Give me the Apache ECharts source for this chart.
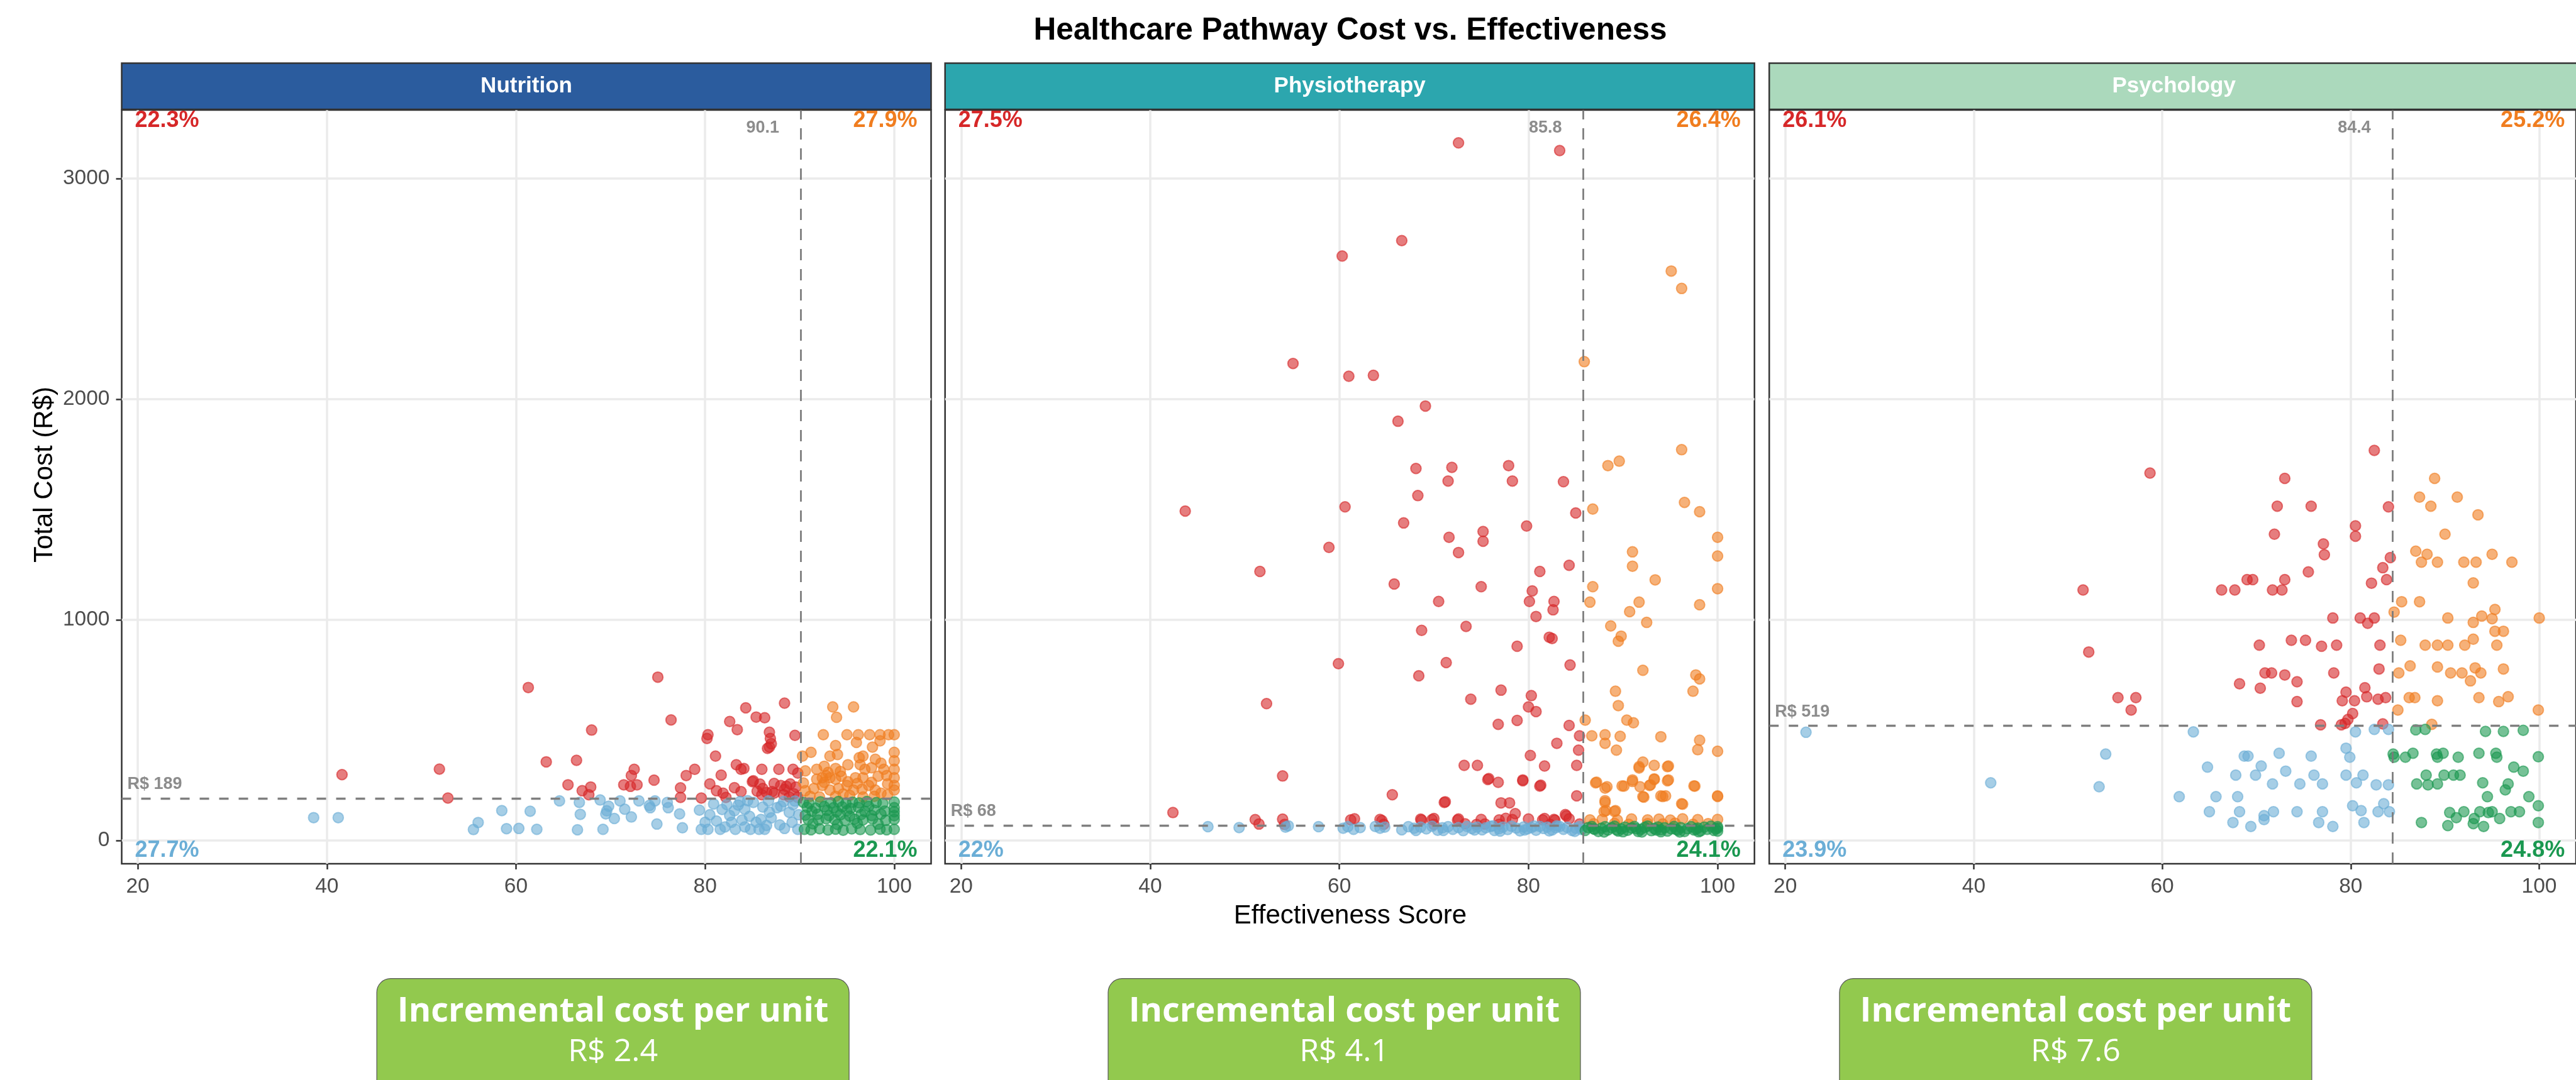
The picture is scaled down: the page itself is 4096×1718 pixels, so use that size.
<!DOCTYPE html>
<html>
<head>
<meta charset="utf-8">
<script src="https://cdn.jsdelivr.net/npm/echarts@6/dist/echarts.min.js"></script>
<style>
  html, body { margin: 0; padding: 0; background: #fff; }
  #chart { width: 4096px; height: 1718px; }
</style>
</head>
<body>
<div id="chart"></div>
<script>
// ---- data ----
var panelNames = ['Nutrition', 'Physiotherapy', 'Psychology'];
var stripColors = ['#2B5C9E', '#2CA6AE', '#ABD9BC'];
var xThresholds = [90.1, 85.8, 84.4];
var yThresholds = [189, 68, 519];
var xThresholdLabels = ['90.1', '85.8', '84.4'];
var yThresholdLabels = ['R$ 189', 'R$ 68', 'R$ 519'];
// top-left, top-right, bottom-left, bottom-right
var quadrantPct = [
  ['22.3%', '27.9%', '27.7%', '22.1%'],
  ['27.5%', '26.4%', '22%', '24.1%'],
  ['26.1%', '25.2%', '23.9%', '24.8%']
];
var incrementalCost = ['R$ 2.4', 'R$ 4.1', 'R$ 7.6'];
var xTicks = [20, 40, 60, 80, 100];
var yTicks = [0, 1000, 2000, 3000];

var nutritionPoints = [
  // above median cost
  [41.6,298],[51.9,323],[52.8,192],[61.3,693],[63.2,356],[65.5,252],[66.4,363],[67.0,225],[67.7,207],[67.9,242],
  [68.0,500],[71.4,252],[72.1,245],[72.2,294],[72.5,322],[72.8,252],[74.6,273],[75.0,740],[76.4,546],[77.4,238],
  [77.4,195],[78.0,294],[78.9,322],[79.6,192],[80.2,462],[80.3,479],[80.5,256],[81.1,382],[81.2,225],[81.7,296],
  [81.9,214],[82.2,195],[82.6,539],[83.1,239],[83.3,343],[83.4,502],[83.8,322],[83.8,221],[84.1,326],[84.3,601],
  [85.0,266],[85.1,270],[85.4,559],[85.5,223],[85.8,255],[86.0,322],[86.0,207],[86.1,235],[86.3,556],[86.5,217],
  [86.6,417],[86.8,490],[86.8,423],[86.9,462],[87.0,438],[87.1,221],[87.3,258],[87.3,214],[87.8,322],[88.0,249],
  [88.3,207],[88.4,622],[88.4,231],[88.6,245],[88.9,197],[89.0,256],[89.3,322],[89.4,211],[89.5,476],[89.6,242],
  [89.8,305],[89.8,195],
  [93.5,605],[95.7,605],[93.9,558],[92.5,479],[95.0,479],[96.2,479],[97.4,479],[98.5,479],[99.4,479],[100,479],
  [96.0,444],[98.5,451],[93.8,430],[97.7,423],[90.3,382],[91.2,399],[93.2,382],[94.0,389],[96.7,382],[98.0,368],
  [100,399],[96.3,375],[100,361],[90.6,315],[91.8,322],[92.6,336],[93.0,308],[93.8,326],[94.3,312],[95.1,343],
  [96.4,343],[96.9,322],[97.6,329],[98.6,350],[98.9,322],[100,322],[92.4,284],[93.2,284],[94.4,291],[95.9,284],
  [96.7,284],[97.6,263],[98.3,291],[99.2,294],[99.3,256],[100,284],[91.8,277],[92.6,263],[93.8,277],[95.1,266],
  [92.8,294],[90.6,225],[91.5,235],[92.4,249],[93.2,228],[94.1,235],[95.0,249],[95.7,228],[96.6,232],[97.3,249],
  [98.0,228],[98.6,214],[100,228],[100,249],[91.1,200],[92.1,197],[93.8,200],[95.3,204],[96.7,197],[97.9,200],
  [99.3,207],[90.4,260],[94.6,210],[96.1,258],
  // below median cost
  [38.6,103],[41.2,103],[55.5,49],[56.0,81],[58.5,135],[59.0,53],[60.3,54],[61.5,132],[62.2,50],[64.6,179],
  [66.5,48],[66.7,172],[66.8,118],[68.9,183],[69.2,50],[69.8,155],[69.6,134],[69.5,120],[70.4,99],[71.0,179],
  [71.5,141],[72.2,106],[73.0,179],[74.1,158],[74.2,148],[74.7,179],[74.9,74],[76.0,172],[76.1,148],[77.3,120],
  [77.6,57],[79.4,137],[79.6,50],[80.0,82],[80.3,50],[80.5,116],[80.9,165],[81.2,88],[81.6,50],[82.1,61],
  [82.3,162],[82.6,113],[82.8,82],[83.1,134],[83.2,50],[83.7,176],[83.9,92],[84.2,61],[84.2,141],[84.7,109],
  [84.8,50],[85.1,172],[85.4,82],[85.7,50],[86.1,151],[86.3,50],[86.7,179],[87.0,102],[87.6,148],[88.3,176],
  [88.4,54],[88.9,127],[89.2,82],[89.8,50],[89.3,162],[89.9,116],[86.8,128],[87.9,70],[85.9,95],[81.8,140],
  [83.5,160],[88.0,155],[84.5,180],[86.5,68],[89.5,178],
  [90.4,172],[91.0,168],[92.2,175],[93.3,170],[94.1,176],[94.9,168],[95.6,173],[96.3,170],[97.1,176],[98.1,171],
  [98.8,167],[100,174],[90.8,150],[91.7,146],[92.6,153],[93.6,148],[94.5,152],[95.4,145],[96.2,150],[97.3,154],
  [100,148],[91.3,132],[92.9,136],[93.9,130],[95.0,134],[96.9,131],[97.9,137],[99.0,133],[100,130],[90.6,114],
  [91.9,118],[93.1,112],[94.3,116],[95.3,110],[96.5,117],[97.6,113],[98.6,119],[100,112],[90.9,95],[92.0,92],
  [92.8,98],[93.7,94],[94.8,90],[95.8,96],[96.7,93],[97.7,97],[99.1,91],[100,95],[91.4,75],[94.0,72],
  [96.1,77],[98.3,74],[90.5,50],[91.2,48],[92.1,53],[93.0,47],[93.8,51],[94.6,46],[95.5,52],[96.4,49],
  [97.5,47],[98.5,51],[99.2,48],[100,50]
];

var physioPoints = [
  [72.6,3162],[83.3,3127],[66.6,2719],[60.3,2649],[55.1,2162],[61.0,2104],[63.6,2108],[69.1,1969],[66.2,1900],[68.1,1686],
  [71.9,1691],[77.9,1699],[71.5,1629],[78.3,1629],[83.7,1626],[68.3,1563],[43.7,1493],[60.6,1512],[85.0,1484],[66.8,1439],
  [79.8,1425],[75.2,1400],[75.2,1356],[71.6,1374],[58.9,1328],[72.6,1305],[51.6,1219],[84.3,1247],[81.2,1219],[65.8,1162],
  [75.0,1150],[80.4,1131],[70.5,1083],[80.1,1083],[82.7,1083],[82.6,1045],[80.8,1015],
  [73.4,970],[68.7,952],[82.2,921],[82.5,915],[78.8,880],[59.9,801],[71.3,806],[84.4,795],[68.4,746],[77.1,681],
  [80.3,656],[73.9,640],[52.3,620],[80.0,605],[80.8,584],[78.8,544],[76.8,526],[84.3,521],[85.4,474],[83.0,440],
  [85.3,409],[80.2,385],[73.2,340],[74.6,340],[81.7,337],[85.1,340],[54.0,292],[75.8,280],[76.8,263],[79.4,274],
  [81.3,250],[75.7,276],[79.4,270],[81.2,246],[65.6,207],[85.1,202],[71.2,175],[77.1,170],[78.0,170],[71.1,172],
  [42.4,126],[83.9,117],[78.6,121],[84.0,111],
  [51.1,94],[54.0,96],[61.2,93],[61.6,98],[64.3,95],[64.5,90],[68.6,96],[68.7,92],[69.8,94],[70.0,99],
  [72.5,92],[72.6,97],[75.0,95],[76.9,93],[77.6,100],[78.3,94],[80.0,97],[81.5,93],[81.7,99],[82.7,95],
  [82.8,91],[84.3,98],[51.5,74],[54.2,72],[64.7,73],[70.0,72],[73.3,75],[74.5,72],[75.4,74],[76.9,73],
  [82.3,72],[85.4,74],
  [95.1,2581],[96.2,2502],[85.9,2170],[96.2,1771],[88.4,1699],[89.6,1719],[96.5,1532],[98.1,1490],[100,1374],[100,1289],
  [86.8,1502],[91.0,1308],[91.0,1243],[93.4,1181],[100,1141],[86.8,1150],[86.5,1080],[91.7,1080],[98.1,1068],[90.7,1037],
  [92.5,988],[88.7,972],[89.8,926],[89.5,903],
  [92.1,771],[97.7,750],[98.1,732],[89.2,676],[97.4,676],[89.5,611],[86.0,545],[90.4,545],[91.1,533],[86.7,474],
  [88.1,479],[89.7,472],[94.0,470],[98.1,454],[88.1,440],[89.3,409],[97.9,411],[100,404],[92.1,355],[91.7,328],
  [93.3,340],[94.8,337],[91.7,334],[94.7,334],[87.1,261],[88.3,243],[89.9,247],[91.0,274],[91.8,243],[93.3,279],
  [94.8,274],[92.9,252],[97.5,247],[87.2,264],[88.1,237],[90.1,246],[91.0,267],[92.8,249],[93.3,276],[94.7,270],
  [97.6,246],[92.1,198],[94.0,202],[94.5,202],[96.2,166],[100,202],[92.2,196],[94.2,199],[96.3,164],[100,199],
  [88.1,180],[88.1,172],[88.2,135],[89.2,135],[88.0,131],[89.1,131],
  [86.5,93],[87.8,95],[89.4,92],[90.9,97],[92.6,93],[93.8,96],[95.0,92],[96.3,98],[97.9,94],[100,95],
  [86.9,75],[89.1,77],[90.6,73],[92.6,76],[94.2,74],[95.5,78],[97.4,73],[99.0,76],
  [46.1,62],[49.4,58],[54.3,60],[54.6,66],[57.8,62],[60.4,55],[60.9,62],[61.5,50],[62.2,58],[63.8,63],
  [64.3,55],[64.8,60],[66.6,48],[67.3,62],[67.9,55],[68.6,60],[69.2,52],[69.8,64],[70.4,46],[70.9,57],
  [71.5,62],[72.0,50],[72.6,58],[73.1,44],[73.5,63],[74.0,54],[74.6,60],[75.1,48],[75.5,57],[76.0,63],
  [76.4,45],[76.9,53],[77.3,60],[77.8,49],[78.2,64],[78.7,56],[79.1,43],[79.5,61],[79.9,52],[80.3,58],
  [80.8,46],[81.2,63],[81.6,54],[82.0,60],[82.5,47],[82.9,57],[83.3,63],[83.7,50],[84.1,59],[84.6,45],
  [85.0,55],[85.4,62],[85.6,49],[71.0,45],[74.3,47],[77.0,42],[79.6,47],[82.2,43],[84.9,41],[76.2,66],
  [80.6,65],[68.1,45],[83.0,66],
  [86.0,45],[86.3,58],[86.7,63],[87.0,50],[87.4,40],[87.7,55],[88.1,62],[88.4,47],[88.8,57],[89.1,64],
  [89.5,42],[89.8,52],[90.2,60],[90.5,46],[90.9,56],[91.2,63],[91.6,40],[91.9,50],[92.3,59],[92.6,65],
  [93.0,44],[93.3,54],[93.7,61],[94.0,48],[94.4,57],[94.7,42],[95.1,52],[95.4,63],[95.8,46],[96.1,58],
  [96.5,40],[96.8,53],[97.2,62],[97.5,47],[97.9,56],[98.2,43],[98.6,60],[98.9,50],[99.3,64],[99.6,45],
  [100,55],[100,42],[100,62],[88.0,38],[90.0,39],[92.0,38],[94.0,39],[96.0,38],[98.0,39],[86.9,52],
  [89.3,48],[91.4,53],[93.5,47],[95.6,50],[97.7,51],[99.8,52]
];

var psychPoints = [
  [82.5,1768],[58.7,1665],[73.0,1641],[72.2,1515],[75.8,1515],[84.0,1512],[80.5,1426],[71.9,1388],[80.5,1379],[77.1,1344],
  [77.2,1295],[84.2,1282],[83.4,1236],[75.5,1217],[69.0,1182],[69.6,1182],[73.0,1182],[82.2,1166],[83.8,1182],[51.6,1135],
  [66.3,1135],[67.7,1135],[71.7,1135],[72.7,1135],[78.1,1008],[81.0,1008],[82.5,1008],[81.8,984],[52.2,854],[55.3,647],
  [57.2,647],[56.7,591],[70.3,885],[73.7,907],[75.2,907],[76.9,880],[78.5,885],[83.1,885],[70.9,759],[71.6,759],
  [73.0,750],[78.2,759],[83.0,777],[68.2,710],[70.4,690],[74.3,719],[79.5,672],[81.5,692],[74.3,629],[79.1,633],
  [80.4,633],[81.7,651],[82.9,640],[83.7,647],[80.2,575],[79.7,548],[79.4,530],[76.8,524],[79.0,524],[83.4,528],
  [88.9,1641],[87.3,1556],[91.3,1556],[88.5,1515],[93.5,1476],[90.0,1388],[86.9,1311],[88.1,1297],[95.0,1297],[87.5,1261],
  [89.2,1261],[92.0,1261],[93.3,1261],[97.1,1261],[93.0,1167],[85.4,1082],[87.3,1082],[84.6,1035],[95.3,1047],[90.3,1008],
  [93.9,1017],[95.0,1005],[100,1008],[93.0,988],[95.3,948],[96.2,948],[85.3,907],[87.9,885],[89.2,885],[90.3,885],
  [92.1,885],[93.0,912],[95.5,885],[86.3,791],[89.2,786],[85.1,759],[90.6,759],[91.8,759],[93.2,782],[93.8,759],
  [92.7,723],[96.2,777],[86.2,647],[86.8,647],[89.2,633],[93.6,647],[95.7,629],[96.7,651],[85.0,591],[99.9,591],
  [88.6,526],
  [22.2,490],[41.8,261],[53.3,243],[54.0,391],[63.3,492],[61.8,198],[64.8,332],[65.7,198],[68.0,198],[65.0,130],
  [67.5,81],[68.2,130],[67.8,296],[68.7,382],[69.1,382],[69.9,296],[70.5,337],[69.4,63],[70.8,112],[70.8,94],
  [71.8,130],[71.7,256],[72.4,395],[73.1,314],[74.3,130],[74.6,256],[75.8,382],[76.1,296],[76.6,81],[77.0,256],
  [77.0,130],[78.1,63],[79.5,418],[79.9,377],[79.5,296],[80.6,261],[80.2,157],[81.1,135],[81.3,296],[81.4,81],
  [82.7,252],[82.9,130],[83.5,166],[84.0,252],[84.1,130],[80.5,492],[82.5,503],[84.0,503],
  [86.9,501],[87.9,503],[94.3,494],[96.2,494],[98.3,499],[84.5,391],[84.6,377],[85.8,377],[86.6,395],[89.1,391],
  [89.8,395],[89.2,377],[91.4,377],[93.6,395],[95.4,395],[95.5,377],[99.9,379],[97.3,332],[98.3,314],[88.0,296],
  [89.9,296],[90.9,296],[91.6,296],[87.0,256],[88.2,252],[89.2,256],[94.0,261],[96.7,256],[96.4,229],[94.5,198],
  [98.9,198],[99.9,157],[90.5,126],[91.2,103],[92.0,130],[93.1,99],[93.7,130],[94.6,126],[95.0,130],[95.8,99],
  [97.0,130],[97.9,130],[87.5,81],[90.3,67],[93.0,76],[94.1,63],[99.9,81]
];

// ---- layout (px) ----
var FONT = 'Liberation Sans';
var gridLefts = [193.5, 1502.7, 2813.2];
var gridTop = 175, gridW = 1287, gridH = 1199;
var xMin = 18.3, xMax = 103.9, yMin = -106, yMax = 3311;
var quadKeys = ['tl', 'tr', 'bl', 'br'];
var quadColors = { tl: '#D62728', tr: '#F07D1F', bl: '#6BAED6', br: '#1A9850' };
var allPoints = [nutritionPoints, physioPoints, psychPoints];

function splitQuadrants(points, tx, ty) {
  var q = { tl: [], tr: [], bl: [], br: [] };
  points.forEach(function (p) {
    var key = (p[1] >= ty ? 't' : 'b') + (p[0] >= tx ? 'r' : 'l');
    q[key].push(p);
  });
  return q;
}

var grids = [], xAxes = [], yAxes = [], series = [];
for (var i = 0; i < 3; i++) {
  grids.push({
    left: gridLefts[i], top: gridTop, width: gridW, height: gridH,
    show: true, borderColor: '#333333', borderWidth: 2.5, backgroundColor: '#ffffff'
  });
  xAxes.push({
    type: 'value', gridIndex: i, min: xMin, max: xMax,
    axisLine: { show: false, onZero: false },
    axisTick: { show: true, length: 9, customValues: xTicks, lineStyle: { color: '#333333', width: 2.5 } },
    axisLabel: { customValues: xTicks, margin: 20, color: '#4D4D4D', fontSize: 33.5, fontFamily: FONT },
    splitLine: { show: true, lineStyle: { color: '#EBEBEB', width: 3.5 } }
  });
  yAxes.push({
    type: 'value', gridIndex: i, min: yMin, max: yMax,
    axisLine: { show: false, onZero: false },
    axisTick: { show: i === 0, length: 9, customValues: yTicks, lineStyle: { color: '#333333', width: 2.5 } },
    axisLabel: {
      show: i === 0, customValues: yTicks, margin: 19, color: '#4D4D4D', fontSize: 33.5, fontFamily: FONT,
      formatter: function (v) { return String(v); }
    },
    splitLine: { show: true, lineStyle: { color: '#EBEBEB', width: 3.5 } }
  });
  var q = splitQuadrants(allPoints[i], xThresholds[i], yThresholds[i]);
  quadKeys.forEach(function (k) {
    series.push({
      type: 'scatter', xAxisIndex: i, yAxisIndex: i, data: q[k],
      symbolSize: 16.5, z: 2,
      itemStyle: { color: quadColors[k], borderColor: quadColors[k], borderWidth: 2, opacity: 0.6 },
      emphasis: { disabled: true }
    });
  });
  // median thresholds: vertical (effectiveness) and horizontal (cost)
  series.push({
    type: 'scatter', xAxisIndex: i, yAxisIndex: i, data: [], z: 5, silent: true,
    markLine: {
      silent: true, symbol: ['none', 'none'], label: { show: false },
      emphasis: { disabled: true },
      data: [
        { xAxis: xThresholds[i], lineStyle: { color: '#7A7A7A', width: 2.7, type: [18, 14] } },
        { yAxis: yThresholds[i], lineStyle: { color: '#7F7F7F', width: 3.3, type: [15, 16] } }
      ]
    }
  });
}

var chart = echarts.init(document.getElementById('chart'));
chart.setOption({
  animation: false,
  backgroundColor: '#ffffff',
  grid: grids, xAxis: xAxes, yAxis: yAxes, series: series
});

// ---- annotations ----
var graphics = [];
function txt(x, y, text, size, color, weight, align, vAlign, family) {
  graphics.push({
    type: 'text', x: x, y: y, z: 50,
    style: {
      text: text, fill: color, fontSize: size, fontWeight: weight || 'normal',
      fontFamily: family || FONT, textAlign: align || 'left', textVerticalAlign: vAlign || 'middle'
    }
  });
}

txt(2147, 49, 'Healthcare Pathway Cost vs. Effectiveness', 49.5, '#000000', 'bold', 'center');
txt(2147, 1457, 'Effectiveness Score', 42, '#000000', 'normal', 'center');
graphics.push({
  type: 'text', x: 71, y: 755, rotation: Math.PI / 2, z: 50,
  style: { text: 'Total Cost (R$)', fill: '#000000', fontSize: 42, fontFamily: FONT,
           textAlign: 'center', textVerticalAlign: 'middle' }
});

for (var p = 0; p < 3; p++) {
  var L = gridLefts[p], R = L + gridW, B = gridTop + gridH;
  graphics.push({
    type: 'rect', z: 40,
    shape: { x: L, y: 100.5, width: gridW, height: 73.5 },
    style: { fill: stripColors[p], stroke: '#333333', lineWidth: 2.5 }
  });
  txt(L + gridW / 2, 137.5, panelNames[p], 35, '#ffffff', 'bold', 'center');

  txt(L + 21, gridTop + 17, quadrantPct[p][0], 36, quadColors.tl, 'bold', 'left');
  txt(R - 22, gridTop + 17, quadrantPct[p][1], 36, quadColors.tr, 'bold', 'right');
  txt(L + 21, B - 21, quadrantPct[p][2], 36, quadColors.bl, 'bold', 'left');
  txt(R - 22, B - 21, quadrantPct[p][3], 36, quadColors.br, 'bold', 'right');

  var vx = chart.convertToPixel({ gridIndex: p }, [xThresholds[p], 0])[0];
  var hy = chart.convertToPixel({ gridIndex: p }, [50, yThresholds[p]])[1];
  txt(vx - 34, gridTop + 29, xThresholdLabels[p], 27, '#8C8C8C', 'bold', 'right');
  txt(L + 9, hy - 9, yThresholdLabels[p], 27, '#8C8C8C', 'bold', 'left', 'bottom');
}

var boxCenters = [974.6, 2137.5, 3300.4];
for (var b = 0; b < 3; b++) {
  graphics.push({
    type: 'rect', z: 40,
    shape: { x: boxCenters[b] - 375.5, y: 1556.7, width: 751, height: 260, r: 22 },
    style: { fill: '#92C94E', stroke: '#555555', lineWidth: 1.2 }
  });
  txt(boxCenters[b], 1610, 'Incremental cost per unit', 54, '#ffffff', 'bold', 'center', 'middle', 'Open Sans');
  txt(boxCenters[b], 1674, incrementalCost[b], 50, '#ffffff', 'normal', 'center', 'middle', 'Open Sans');
}

chart.setOption({ graphic: graphics });
</script>
</body>
</html>
